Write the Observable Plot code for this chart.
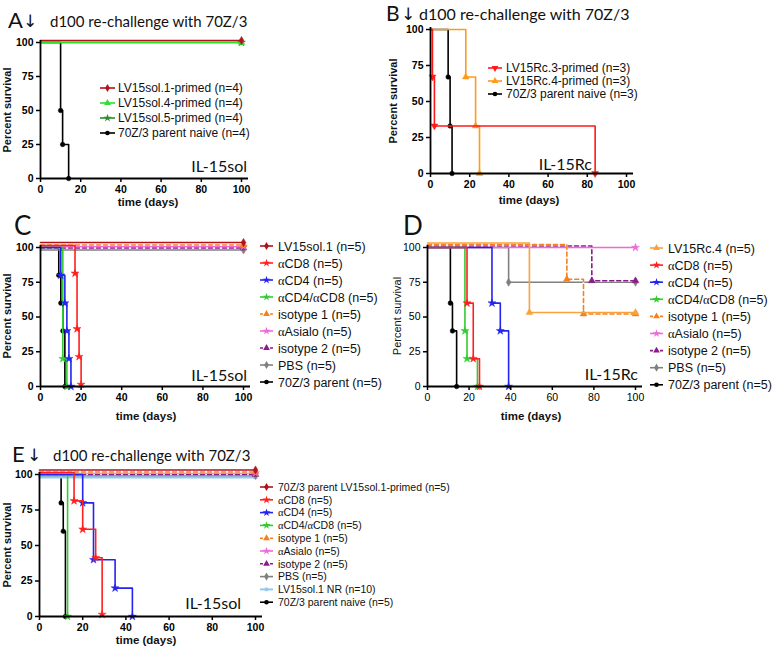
<!DOCTYPE html>
<html><head><meta charset="utf-8">
<script src="https://cdn.jsdelivr.net/npm/d3@7"></script>
<script src="https://cdn.jsdelivr.net/npm/@observablehq/plot@0.6"></script>
<style>
body{margin:0;background:#fff;}
#fig{position:relative;width:778px;height:646px;overflow:hidden;background:#fff;}
.pan{position:absolute;}
#ov{position:absolute;left:0;top:0;pointer-events:none;}
</style></head><body><div id="fig"></div><script>
// ---------- shared ticks ----------
const xTicks = [0, 20, 40, 60, 80, 100];
const yTicks = [0, 25, 50, 75, 100];

// ---------- Panel A ----------
const A_names = ["LV15sol.1-primed (n=4)", "LV15sol.4-primed (n=4)", "LV15sol.5-primed (n=4)", "70Z/3 parent naive (n=4)"];
const A_days = [[0, 100], [0, 100], [0, 100], [0, 10, 11, 14]];
const A_surv = [[100, 100], [100, 100], [100, 100], [100, 50, 25, 0]];

// ---------- Panel B ----------
const B_names = ["LV15Rc.3-primed (n=3)", "LV15Rc.4-primed (n=3)", "70Z/3 parent naive (n=3)"];
const B_days = [[0, 1, 2, 84], [0, 18, 23, 25], [0, 9, 10, 11]];
const B_surv = [[100, 67, 33, 0], [100, 67, 33, 0], [100, 67, 33, 0]];

// ---------- Panel C ----------
const C_names = ["LV15sol.1 (n=5)", "αCD8 (n=5)", "αCD4 (n=5)", "αCD4/αCD8 (n=5)", "isotype 1 (n=5)", "αAsialo (n=5)", "isotype 2 (n=5)", "PBS (n=5)", "70Z/3 parent (n=5)"];
const C_days = [[0, 100], [0, 17, 18, 19, 20], [0, 10, 12, 13, 14, 15], [0, 11, 13], [0, 100], [0, 100], [0, 100], [0, 100], [0, 9, 10, 11, 12]];
const C_surv = [[100, 100], [100, 80, 40, 20, 0], [100, 80, 60, 40, 20, 0], [100, 20, 0], [100, 100], [100, 100], [100, 100], [100, 100], [100, 80, 60, 40, 0]];

// ---------- Panel D ----------
const D_names = ["LV15Rc.4 (n=5)", "αCD8 (n=5)", "αCD4 (n=5)", "αCD4/αCD8 (n=5)", "isotype 1 (n=5)", "αAsialo (n=5)", "isotype 2 (n=5)", "PBS (n=5)", "70Z/3 parent (n=5)"];
const D_days = [[0, 49, 100], [0, 19, 22, 25], [0, 31, 35, 39], [0, 18, 19, 24], [0, 67, 75, 100], [0, 100], [0, 79, 100], [0, 39, 100], [0, 11, 12, 14]];
const D_surv = [[100, 50, 50], [100, 60, 20, 0], [100, 60, 40, 0], [100, 40, 20, 0], [100, 75, 50, 50], [100, 100], [100, 75, 75], [100, 75, 75], [100, 60, 40, 0]];

// ---------- Panel E ----------
const E_names = ["70Z/3 parent LV15sol.1-primed (n=5)", "αCD8 (n=5)", "αCD4 (n=5)", "αCD4/αCD8 (n=5)", "isotype 1 (n=5)", "αAsialo (n=5)", "isotype 2 (n=5)", "PBS (n=5)", "LV15sol.1 NR (n=10)", "70Z/3 parent naive (n=5)"];
const E_days = [[0, 100], [0, 16, 20, 26, 29], [0, 20, 25, 35, 43], [0, 13], [0, 100], [0, 100], [0, 100], [0, 100], [0, 100], [0, 10, 11, 12]];
const E_surv = [[100, 100], [100, 80, 60, 40, 0], [100, 80, 40, 20, 0], [100, 0], [100, 100], [100, 100], [100, 100], [100, 100], [100, 100], [100, 80, 60, 0]];

// ---------- styles ----------
const DKRED = "#b3121c", RED = "#ff2020", BLUE = "#2424f0", GREEN = "#33cc33", ORANGE = "#f5801f",
      PINK = "#f06ad8", PURPLE = "#8a1c8a", GRAY = "#808080", LTBLUE = "#94c8ef", BLACK = "#000";
const panels = [
  {id: "A", names: A_names, days: A_days, surv: A_surv,
   colors: [DKRED, "#2ee02e", "#2e8b2e", BLACK], sym: ["diamond", "triangle", "star", "circle"],
   dash: [0, 0, 0, 0], dy: [-2, 0, 0, 0], sw: [1.6, 1.6, 1.6, 1.6], rot: [0, 0, 0, 0],
   left: 0, top: 0, width: 260, height: 210, mL: 40, mR: 12, mT: 40, mB: 32, bold: true},
  {id: "B", names: B_names, days: B_days, surv: B_surv,
   colors: ["#ff1a1a", "#ff9a1a", BLACK], sym: ["triangle", "triangle", "circle"],
   dash: [0, 0, 0], dy: [0, 0, 0], sw: [1.6, 1.6, 1.6], rot: [180, 0, 0],
   left: 380, top: 0, width: 270, height: 210, mL: 50, mR: 17, mT: 27, mB: 37, bold: true},
  {id: "C", names: C_names, days: C_days, surv: C_surv,
   colors: [DKRED, RED, BLUE, GREEN, ORANGE, PINK, PURPLE, GRAY, BLACK],
   sym: ["diamond", "star", "star", "star", "triangle", "star", "triangle", "diamond", "circle"],
   dash: [0, 0, 0, 0, 1, 0, 1, 0, 0], dy: [-5, -2, 0, 0, -2.5, -1, 0.5, 2.5, 0], sw: [1.6, 1.6, 1.6, 1.6, 1.6, 1.6, 1.6, 1.6, 1.6], rot: [0, 0, 0, 0, 0, 0, 0, 0, 0],
   left: 0, top: 210, width: 260, height: 200, mL: 40, mR: 10, mT: 35, mB: 24, bold: true},
  {id: "D", names: D_names, days: D_days, surv: D_surv,
   colors: ["#f9a23c", RED, BLUE, GREEN, ORANGE, PINK, PURPLE, GRAY, BLACK],
   sym: ["triangle", "star", "star", "star", "triangle", "star", "triangle", "diamond", "circle"],
   dash: [0, 0, 0, 0, 1, 0, 1, 0, 0], dy: [-4.5, 0, 0, 0, -3, 0, -1.5, 0, 0], sw: [1.6, 1.6, 1.6, 1.6, 1.6, 1.6, 1.6, 1.6, 1.6], rot: [0, 0, 0, 0, 0, 0, 0, 0, 0],
   left: 390, top: 210, width: 260, height: 200, mL: 37, mR: 8, mT: 35, mB: 24, bold: false},
  {id: "E", names: E_names, days: E_days, surv: E_surv,
   colors: [DKRED, RED, BLUE, GREEN, ORANGE, PINK, PURPLE, GRAY, LTBLUE, BLACK],
   sym: ["diamond", "star", "star", "star", "triangle", "star", "triangle", "diamond", "square", "circle"],
   dash: [0, 0, 0, 0, 1, 0, 1, 0, 0, 0], dy: [-4.5, -2, 0, 0, -2.5, -1.5, 0, 1, 2.5, 0], sw: [1.6, 1.6, 1.6, 1.6, 1.6, 1.6, 1.6, 1.6, 3, 1.6], rot: [0, 0, 0, 0, 0, 0, 0, 0, 0, 0],
   left: 0, top: 400, width: 270, height: 246, mL: 39, mR: 8, mT: 72, mB: 30, bold: true}
];

const symR = s => s === "star" ? 2.5 : s === "triangle" ? 2.5 : s === "square" ? 2 : s === "diamond" ? 2.5 : 2.3;

function survPanel(p) {
  const marks = [];
  for (let i = p.names.length - 1; i >= 0; i--) {
    const rows = p.days[i].map((d, j) => ({day: d, surv: p.surv[i][j], j}));
    const dy = p.dy[i];
    if (p.dash[i]) marks.push(Plot.line(rows, {x: "day", y: "surv", curve: "step-after", stroke: "white", strokeWidth: p.sw[i], dy}));
    const lo = {x: "day", y: "surv", curve: "step-after", stroke: p.colors[i], strokeWidth: p.sw[i], dy};
    if (p.dash[i]) lo.strokeDasharray = "4,3";
    marks.push(Plot.line(rows, lo));
    marks.push(Plot.dot(rows.filter(r => r.j > 0), {x: "day", y: "surv", symbol: p.sym[i], fill: p.colors[i], stroke: p.colors[i], strokeWidth: 0.5, r: symR(p.sym[i]), rotate: p.rot[i], dy}));
  }
  marks.push(Plot.ruleX([0], {strokeWidth: 1.8}));
  marks.push(Plot.ruleY([0], {strokeWidth: 1.8}));
  marks.push(Plot.axisX({ticks: xTicks, tickSize: 4, tickPadding: 3, label: null, strokeWidth: 1.5}));
  marks.push(Plot.axisY({ticks: yTicks, tickSize: 4, tickPadding: 3, label: null, strokeWidth: 1.5}));
  return Plot.plot({
    width: p.width, height: p.height,
    marginLeft: p.mL, marginRight: p.mR, marginTop: p.mT, marginBottom: p.mB,
    x: {domain: [0, 100], insetRight: 7},
    y: {domain: [0, 100], insetTop: 2},
    style: {background: "transparent", overflow: "visible", fontFamily: "'Liberation Sans', Arial, sans-serif",
            fontSize: "10.5px", fontWeight: p.bold ? "bold" : "normal", color: "#000"},
    marks
  });
}

const fig = document.getElementById("fig");
for (const p of panels) {
  const div = document.createElement("div");
  div.className = "pan";
  div.style.left = p.left + "px"; div.style.top = p.top + "px"; div.style.width = p.width + "px";
  div.appendChild(survPanel(p));
  fig.appendChild(div);
}

// ---------- text overlay: titles, axis titles, legends ----------
const ov = d3.select(fig).append("svg").attr("id", "ov").attr("width", 778).attr("height", 646);
const TF = "Lato, 'Open Sans', sans-serif", AF = "'Liberation Sans', Arial, sans-serif";
function txt(x, y, s, size, opts = {}) {
  const t = ov.append("text").attr("x", x).attr("y", y).attr("font-size", size)
    .attr("font-family", opts.font || AF).attr("font-weight", opts.weight || "normal")
    .attr("text-anchor", opts.anchor || "start").attr("fill", "#111");
  if (opts.rot) t.attr("transform", `rotate(-90 ${x} ${y})`);
  t.selectAll("tspan").data(s.split(/(α)/).filter(Boolean)).join("tspan").text(d => d)
    .attr("font-family", d => d === "α" ? "'Liberation Serif', serif" : null);
  return t;
}
// panel titles
const titles = [
  {L: "A", arrow: true, lx: 8, ly: 28, ls: 22, sx: 50, sy: 27, ss: 15, sub: "d100 re-challenge with 70Z/3"},
  {L: "B", arrow: true, lx: 386, ly: 21, ls: 21, sx: 419, sy: 20, ss: 16, sub: "d100 re-challenge with 70Z/3"},
  {L: "C", lx: 14, ly: 235, ls: 26},
  {L: "D", lx: 403, ly: 235, ls: 26},
  {L: "E", arrow: true, lx: 12, ly: 462, ls: 22, sx: 53, sy: 461, ss: 15, sub: "d100 re-challenge with 70Z/3"}
];
for (const t of titles) {
  txt(t.lx, t.ly, t.L, t.ls, {font: TF});
  if (t.arrow) txt(t.lx + 15, t.ly - 1, "↓", 17, {font: "'DejaVu Sans', sans-serif"});
  if (t.sub) txt(t.sx, t.sy, t.sub, t.ss, {font: TF});
}
// axis titles & tags
const axt = [
  {yx: 11, yy: 110, tx: 148, ty: 206, tag: "IL-15sol", gx: 247, gy: 172, yb: "bold"},
  {yx: 397, yy: 101, tx: 529, ty: 204, tag: "IL-15Rc", gx: 592, gy: 170, yb: "bold"},
  {yx: 11, yy: 316, tx: 146, ty: 420, tag: "IL-15sol", gx: 247, gy: 381, yb: "bold"},
  {yx: 401, yy: 316, tx: 531, ty: 420, tag: "IL-15Rc", gx: 638, gy: 380, yb: "normal"},
  {yx: 11, yy: 545, tx: 146, ty: 644, tag: "IL-15sol", gx: 241, gy: 609, yb: "bold"}
];
for (const a of axt) {
  txt(a.yx, a.yy, "Percent survival", 11, {weight: a.yb, anchor: "middle", rot: true});
  txt(a.tx, a.ty, "time (days)", 11.5, {weight: "bold", anchor: "middle"});
  txt(a.gx, a.gy, a.tag, 16, {font: TF, anchor: "end"});
}
// legends
const legends = [
  {p: 0, x0: 100, x1: 115, tx: 118, y0: 88, dy: 15, fs: 12},
  {p: 1, x0: 488, x1: 502, tx: 506, y0: 68, dy: 13, fs: 12},
  {p: 2, x0: 260, x1: 273, tx: 278, y0: 246, dy: 17, fs: 12.5},
  {p: 3, x0: 650, x1: 663, tx: 668, y0: 248, dy: 17.1, fs: 12.5},
  {p: 4, x0: 260, x1: 273, tx: 278, y0: 487, dy: 12.8, fs: 10.5}
];
const SYM = {circle: d3.symbolCircle, star: d3.symbolStar, triangle: d3.symbolTriangle, diamond: d3.symbolDiamond, square: d3.symbolSquare};
for (const lg of legends) {
  const p = panels[lg.p];
  p.names.forEach((n, i) => {
    const y = lg.y0 + i * lg.dy;
    const ln = ov.append("line").attr("x1", lg.x0).attr("x2", lg.x1).attr("y1", y).attr("y2", y)
      .attr("stroke", p.colors[i]).attr("stroke-width", Math.min(p.sw[i], 2));
    if (p.dash[i]) ln.attr("stroke-dasharray", "3,2");
    const r = symR(p.sym[i]);
    ov.append("path").attr("d", d3.symbol().type(SYM[p.sym[i]]).size(r * r * Math.PI)())
      .attr("transform", `translate(${(lg.x0 + lg.x1) / 2},${y}) rotate(${p.rot[i]})`)
      .attr("fill", p.colors[i]);
    txt(lg.tx, y + lg.fs * 0.36, n, lg.fs);
  });
}
</script></body></html>
